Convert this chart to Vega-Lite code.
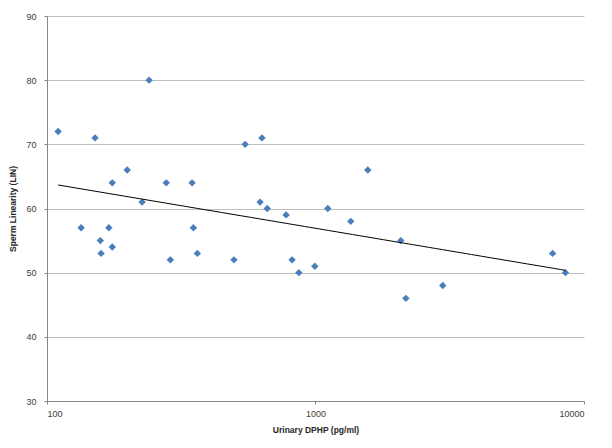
{
  "$schema": "https://vega.github.io/schema/vega-lite/v6.json",
  "autosize": "none",
  "width": 537,
  "height": 385,
  "padding": {"left": 47, "top": 16, "right": 28, "bottom": 47},
  "background": "white",
  "config": {
    "view": {"stroke": null},
    "font": "Liberation Sans",
    "axis": {"labelFont": "Liberation Sans", "titleFont": "Liberation Sans", "labelFontSize": 9, "titleFontSize": 8.5, "labelColor": "#404040", "titleColor": "#262626", "titleFontWeight": "bold", "domainColor": "#868686", "tickColor": "#868686"}
  },
  "data": {"values": [
    {"dphp": 110, "lin": 72},
    {"dphp": 134, "lin": 57},
    {"dphp": 151, "lin": 71},
    {"dphp": 158, "lin": 55},
    {"dphp": 159, "lin": 53},
    {"dphp": 170, "lin": 57},
    {"dphp": 175, "lin": 64},
    {"dphp": 175, "lin": 54},
    {"dphp": 199, "lin": 66},
    {"dphp": 226, "lin": 61},
    {"dphp": 240, "lin": 80},
    {"dphp": 278, "lin": 64},
    {"dphp": 288, "lin": 52},
    {"dphp": 347, "lin": 64},
    {"dphp": 351, "lin": 57},
    {"dphp": 363, "lin": 53},
    {"dphp": 497, "lin": 52},
    {"dphp": 547, "lin": 70},
    {"dphp": 632, "lin": 71},
    {"dphp": 622, "lin": 61},
    {"dphp": 661, "lin": 60},
    {"dphp": 777, "lin": 59},
    {"dphp": 818, "lin": 52},
    {"dphp": 867, "lin": 50},
    {"dphp": 994, "lin": 51},
    {"dphp": 1111, "lin": 60},
    {"dphp": 1353, "lin": 58},
    {"dphp": 1566, "lin": 66},
    {"dphp": 2078, "lin": 55},
    {"dphp": 2170, "lin": 46},
    {"dphp": 2978, "lin": 48},
    {"dphp": 7640, "lin": 53},
    {"dphp": 8530, "lin": 50}
  ]},
  "layer": [
    {
      "mark": {"type": "point", "shape": "diamond", "filled": true, "size": 55, "color": "#4a7ebb", "opacity": 1},
      "encoding": {
        "x": {"field": "dphp", "type": "quantitative", "scale": {"type": "log", "domain": [100, 10000], "nice": false},
          "axis": {"title": "Urinary DPHP (pg/ml)", "values": [100, 1000, 10000], "format": "d", "grid": false, "tickSize": 3, "labelPadding": 5, "titlePadding": 7}},
        "y": {"field": "lin", "type": "quantitative", "scale": {"domain": [30, 90], "nice": false, "zero": false},
          "axis": {"title": "Sperm Linearity (LIN)", "values": [30, 40, 50, 60, 70, 80, 90], "grid": true, "gridColor": "#bfbfbf", "gridWidth": 1, "tickSize": 3, "labelPadding": 8, "titlePadding": 8}}
      }
    },
    {
      "transform": [{"regression": "lin", "on": "dphp", "method": "log"}],
      "mark": {"type": "line", "color": "black", "strokeWidth": 1},
      "encoding": {
        "x": {"field": "dphp", "type": "quantitative"},
        "y": {"field": "lin", "type": "quantitative"}
      }
    }
  ]
}
